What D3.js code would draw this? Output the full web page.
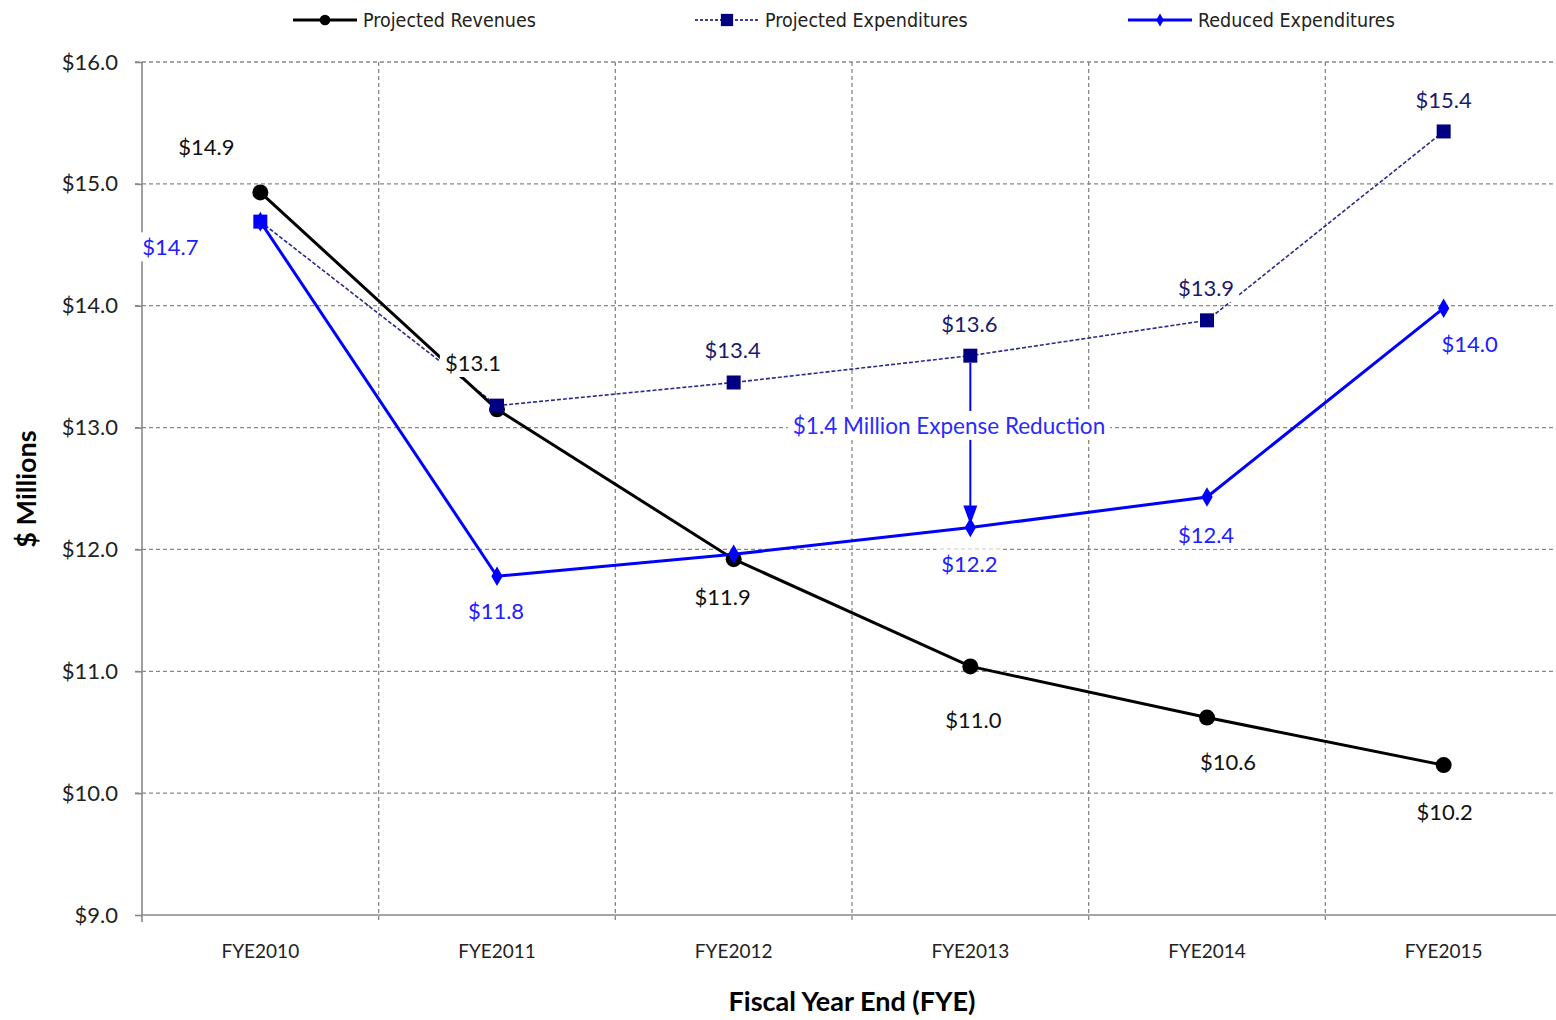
<!DOCTYPE html>
<html>
<head>
<meta charset="utf-8">
<script src="https://cdn.jsdelivr.net/npm/d3@7/dist/d3.min.js"></script>
<style>
  body { margin: 0; background: #fff; }
  svg text { font-family: Lato, "Open Sans", sans-serif; }
</style>
</head>
<body>
<svg id="chart" width="1556" height="1020"></svg>
<script>
// chart data
var years = ["FYE2010", "FYE2011", "FYE2012", "FYE2013", "FYE2014", "FYE2015"];
var revenues = [14.93, 13.15, 11.92, 11.04, 10.62, 10.23];
var projExp = [14.69, 13.18, 13.37, 13.59, 13.88, 15.43];
var reducedExp = [14.69, 11.78, 11.96, 12.18, 12.43, 13.98];
var yTicks = [9, 10, 11, 12, 13, 14, 15, 16];

// which points carry a value label (null = no label)
var revLabels = ["$14.9", "$13.1", "$11.9", "$11.0", "$10.6", "$10.2"];
var projLabels = [null, null, "$13.4", "$13.6", "$13.9", "$15.4"];
var redLabels = ["$14.7", "$11.8", null, "$12.2", "$12.4", "$14.0"];

// label offsets from the point [dx, dy]
var revOff = [[-54, -45], [-24, -46], [-11, 38], [3, 54], [21, 45], [1, 47]];
var projOff = [null, null, [-1, -32], [-1, -31], [-1, -32], [0, -31]];
var redOff = [[-90, 26], [-1, 35], null, [-1, 37], [-1, 38], [26, 36]];

var svg = d3.select("#chart");
var plotL = 142, plotR = 1562, plotT = 62, plotB = 915;

var x = d3.scalePoint().domain(years).range([plotL, plotR]).padding(0.5);
var y = d3.scaleLinear().domain([9, 16]).range([plotB, plotT]);
var step = x.step();

var grid = svg.append("g");
// horizontal gridlines
grid.selectAll("line.h").data(yTicks.filter(function (d) { return d > 9; }))
    .enter().append("line")
    .attr("x1", plotL - 7).attr("x2", 1556)
    .attr("y1", function (d) { return y(d); }).attr("y2", function (d) { return y(d); })
    .style("stroke", "#888").style("stroke-width", 1.3).style("stroke-dasharray", "4,3");
// vertical gridlines at category boundaries
grid.selectAll("line.v").data(years.slice(1))
    .enter().append("line")
    .attr("x1", function (d) { return x(d) - step / 2; })
    .attr("x2", function (d) { return x(d) - step / 2; })
    .attr("y1", plotT).attr("y2", plotB + 7)
    .style("stroke", "#888").style("stroke-width", 1.3).style("stroke-dasharray", "4,3");

// axes
var yAxis = d3.axisLeft(y).tickValues(yTicks).tickSize(7).tickPadding(17)
    .tickFormat(function (d) { return "$" + d3.format(".1f")(d); });
var gy = svg.append("g").attr("transform", "translate(" + plotL + ",0)").call(yAxis);
gy.select(".domain").style("stroke", "#888").style("stroke-width", 1.6)
    .attr("d", "M0," + plotT + "V" + (plotB + 7));
gy.selectAll(".tick line").style("stroke", "#888").style("stroke-width", 1.6);
gy.selectAll(".tick text").style("font-size", "22px").style("fill", "#222")
    .style("font-family", "Lato, sans-serif");

svg.append("line").attr("x1", plotL).attr("x2", 1556).attr("y1", plotB).attr("y2", plotB)
    .style("stroke", "#888").style("stroke-width", 1.6);

svg.selectAll("text.xl").data(years).enter().append("text")
    .attr("x", function (d) { return x(d); }).attr("y", 958)
    .attr("text-anchor", "middle").style("font-size", "19px").style("fill", "#222")
    .text(function (d) { return d; });

// axis titles
svg.append("text").attr("x", 852).attr("y", 1011).attr("text-anchor", "middle")
    .style("font-size", "27px").style("font-weight", "bold").text("Fiscal Year End (FYE)");
svg.append("text").attr("transform", "translate(36,489) rotate(-90)").attr("text-anchor", "middle")
    .style("font-size", "27px").style("font-weight", "bold").text("$ Millions");

// series lines
function lineFor(vals) {
    return d3.line().x(function (d, i) { return x(years[i]); }).y(function (d) { return y(d); })(vals);
}
svg.append("path").attr("d", lineFor(projExp)).style("fill", "none")
    .style("stroke", "#2a2a8a").style("stroke-width", 1.6).style("stroke-dasharray", "4,2");
svg.append("path").attr("d", lineFor(revenues)).style("fill", "none")
    .style("stroke", "#000").style("stroke-width", 3);
svg.append("path").attr("d", lineFor(reducedExp)).style("fill", "none")
    .style("stroke", "#0000ff").style("stroke-width", 3);

// markers
svg.selectAll("circle.rev").data(revenues).enter().append("circle")
    .attr("cx", function (d, i) { return x(years[i]); }).attr("cy", function (d) { return y(d); })
    .attr("r", 8).style("fill", "#000");
svg.selectAll("rect.proj").data(projExp).enter().append("rect")
    .attr("x", function (d, i) { return x(years[i]) - 7; }).attr("y", function (d) { return y(d) - 7; })
    .attr("width", 14).attr("height", 14)
    .style("fill", function (d, i) { return i == 0 ? "#0000ff" : "#000080"; });
svg.selectAll("path.red").data(reducedExp).enter().append("path")
    .attr("d", d3.symbol().type(d3.symbolDiamond).size(110))
    .attr("transform", function (d, i) { return "translate(" + x(years[i]) + "," + y(d) + ")"; })
    .style("fill", "#0000ff");

// annotation arrow
var ax = x("FYE2013");
svg.append("line").attr("x1", ax).attr("x2", ax)
    .attr("y1", y(projExp[3]) + 7).attr("y2", y(reducedExp[3]) - 20)
    .style("stroke", "#0000ff").style("stroke-width", 2);
svg.append("path")
    .attr("d", "M" + (ax - 7) + "," + (y(reducedExp[3]) - 22) + "L" + (ax + 7) + "," + (y(reducedExp[3]) - 22) +
        "L" + ax + "," + (y(reducedExp[3]) - 3) + "Z")
    .style("fill", "#0000ff");

// labels with white backing
function addLabel(txt, px, py, color, size) {
    var g = svg.append("g");
    var r = g.append("rect").style("fill", "#fff");
    var t = g.append("text").attr("x", px).attr("y", py).attr("dy", "0.35em")
        .attr("text-anchor", "middle").style("font-size", size + "px").style("fill", color).text(txt);
    var b = t.node().getBBox();
    r.attr("x", b.x - 5).attr("y", b.y - 1).attr("width", b.width + 10).attr("height", b.height + 2);
}
revenues.forEach(function (d, i) {
    if (revLabels[i]) addLabel(revLabels[i], x(years[i]) + revOff[i][0], y(d) + revOff[i][1], "#111", 22);
});
projExp.forEach(function (d, i) {
    if (projLabels[i]) addLabel(projLabels[i], x(years[i]) + projOff[i][0], y(d) + projOff[i][1], "#1a1a6e", 22);
});
reducedExp.forEach(function (d, i) {
    if (redLabels[i]) addLabel(redLabels[i], x(years[i]) + redOff[i][0], y(d) + redOff[i][1], "#2020ff", 22);
});
addLabel("$1.4 Million Expense Reduction", 949, 426, "#2a2aff", 22.5);

// legend
var legend = [
    { name: "Projected Revenues", x: 293, color: "#000", width: 3, dash: null, mark: "circle" },
    { name: "Projected Expenditures", x: 695, color: "#000080", width: 1.5, dash: "3,2", mark: "square" },
    { name: "Reduced Expenditures", x: 1128, color: "#0000ff", width: 3, dash: null, mark: "diamond" }
];
var lg = svg.selectAll("g.leg").data(legend).enter().append("g")
    .attr("transform", function (d) { return "translate(" + d.x + ",20)"; });
lg.append("line").attr("x1", 0).attr("x2", 64).attr("y1", 0).attr("y2", 0)
    .style("stroke", function (d) { return d.color; }).style("stroke-width", function (d) { return d.width; })
    .style("stroke-dasharray", function (d) { return d.dash; });
lg.append("path")
    .attr("d", function (d) {
        var t = d.mark == "circle" ? d3.symbolCircle : d.mark == "square" ? d3.symbolSquare : d3.symbolDiamond;
        var s = d.mark == "circle" ? 90 : d.mark == "square" ? 150 : 50;
        return d3.symbol().type(t).size(s)();
    })
    .attr("transform", "translate(32,0)")
    .style("fill", function (d) { return d.color; });
lg.append("text").attr("x", 70).attr("y", 0).attr("dy", "0.35em")
    .style("font-size", "19.5px").style("fill", "#222")
    .style("font-family", "'DejaVu Sans Condensed', 'DejaVu Sans', sans-serif")
    .text(function (d) { return d.name; });
</script>
</body>
</html>
